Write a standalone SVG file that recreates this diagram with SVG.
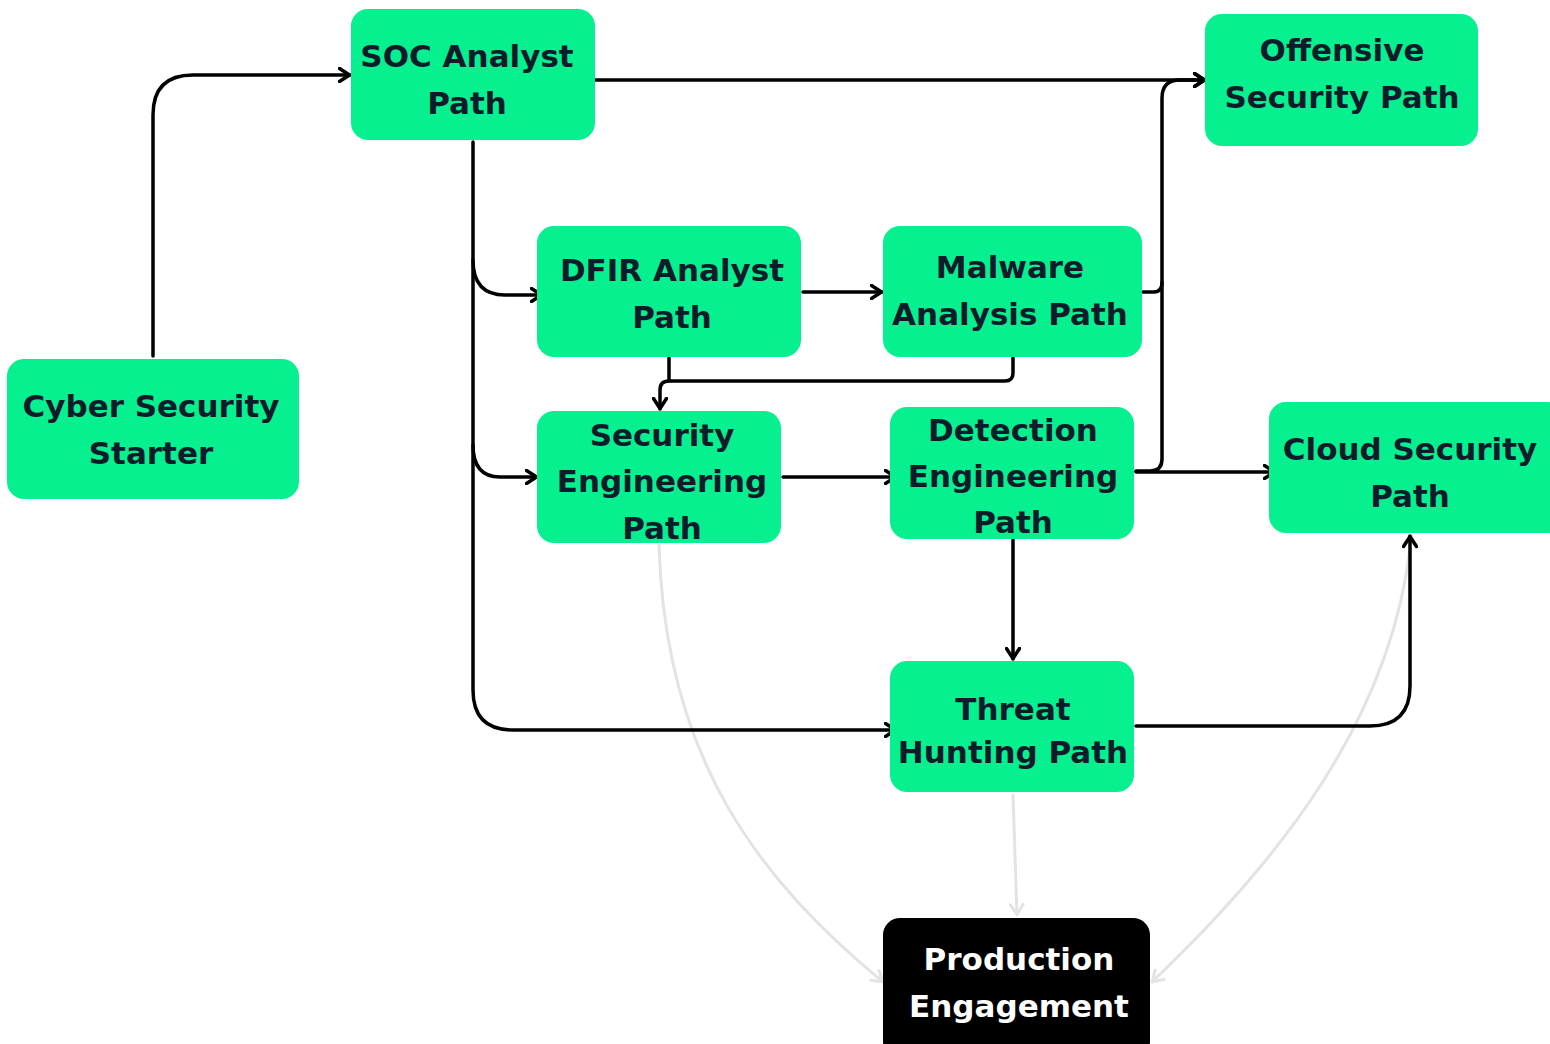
<svg xmlns="http://www.w3.org/2000/svg" width="1550" height="1044" viewBox="0 0 1550 1044">
<style>
.n{fill:#06f08f}
.t{font-family:"DejaVu Sans","Liberation Sans",sans-serif;font-weight:bold;font-size:31px;fill:#0e1b2b;text-anchor:middle}
.w{fill:#ffffff}
.c{fill:none;stroke:#000;stroke-width:3.5;stroke-linecap:round;stroke-linejoin:round}
.g{fill:none;stroke:#e3e3e3;stroke-width:3;stroke-linecap:round}
</style>
<defs>
<marker id="a" markerUnits="userSpaceOnUse" viewBox="0 0 14 16" refX="12.5" refY="8" markerWidth="14" markerHeight="16" orient="auto"><path d="M2,1.5 L12,8 L2,14.5" fill="none" stroke="#000" stroke-width="3.5" stroke-linecap="round" stroke-linejoin="round"/></marker>
<marker id="ag" markerUnits="userSpaceOnUse" viewBox="0 0 14 16" refX="12.5" refY="8" markerWidth="14" markerHeight="16" orient="auto"><path d="M2,1.5 L12,8 L2,14.5" fill="none" stroke="#e3e3e3" stroke-width="3" stroke-linecap="round" stroke-linejoin="round"/></marker>
</defs>
<g id="connectors">
<path class="g" d="M659,545 C665,760 760,880 883,982" marker-end="url(#ag)"/>
<path class="g" d="M1013,795 L1017,915" marker-end="url(#ag)"/>
<path class="g" d="M1410,548 C1390,720 1280,860 1152,982" marker-end="url(#ag)"/>
<path class="c" d="M153,356 V115 Q153,75 193,75 H350" marker-end="url(#a)"/>
<path class="c" d="M595,80 H1205" marker-end="url(#a)"/>
<path class="c" d="M473,142 V690 Q473,730 513,730 H896" marker-end="url(#a)"/>
<path class="c" d="M473,260 Q473,295 505,295 H542" marker-end="url(#a)"/>
<path class="c" d="M473,445 Q473,477 500,477 H537" marker-end="url(#a)"/>
<path class="c" d="M803,292 H882" marker-end="url(#a)"/>
<path class="c" d="M669,358 V381"/>
<path class="c" d="M1013,358 V373 Q1013,381 1005,381 H669 Q660,381 660,390 V409" marker-end="url(#a)"/>
<path class="c" d="M783,477 H896" marker-end="url(#a)"/>
<path class="c" d="M1143,292 H1154 Q1162,292 1162,282 V98 Q1162,80 1180,80 H1205" marker-end="url(#a)"/>
<path class="c" d="M1136,471 H1150 Q1162,471 1162,459 V282"/>
<path class="c" d="M1136,472 H1275" marker-end="url(#a)"/>
<path class="c" d="M1013,540 V659" marker-end="url(#a)"/>
<path class="c" d="M1136,726 H1370 Q1410,726 1410,686 V536" marker-end="url(#a)"/>
</g>
<g id="starter"><rect class="n" x="7" y="359" width="292" height="140" rx="17"/><text class="t" x="151" y="417">Cyber Security</text><text class="t" x="151" y="464">Starter</text></g>
<g id="soc"><rect class="n" x="351" y="9" width="244" height="131" rx="17"/><text class="t" x="467" y="67">SOC Analyst</text><text class="t" x="467" y="114">Path</text></g>
<g id="offensive"><rect class="n" x="1205" y="14" width="273" height="132" rx="17"/><text class="t" x="1342" y="61">Offensive</text><text class="t" x="1342" y="108">Security Path</text></g>
<g id="dfir"><rect class="n" x="537" y="226" width="264" height="131" rx="17"/><text class="t" x="672" y="281">DFIR Analyst</text><text class="t" x="672" y="328">Path</text></g>
<g id="malware"><rect class="n" x="883" y="226" width="259" height="131" rx="17"/><text class="t" x="1010" y="278">Malware</text><text class="t" x="1010" y="325">Analysis Path</text></g>
<g id="seceng"><rect class="n" x="537" y="411" width="244" height="132" rx="17"/><text class="t" x="662" y="446">Security</text><text class="t" x="662" y="492">Engineering</text><text class="t" x="662" y="539">Path</text></g>
<g id="detection"><rect class="n" x="890" y="407" width="244" height="132" rx="17"/><text class="t" x="1013" y="441">Detection</text><text class="t" x="1013" y="487">Engineering</text><text class="t" x="1013" y="533">Path</text></g>
<g id="cloud"><rect class="n" x="1269" y="402" width="295" height="131" rx="17"/><text class="t" x="1410" y="460">Cloud Security</text><text class="t" x="1410" y="507">Path</text></g>
<g id="threat"><rect class="n" x="890" y="661" width="244" height="131" rx="17"/><text class="t" x="1013" y="720">Threat</text><text class="t" x="1013" y="763">Hunting Path</text></g>
<g id="production"><rect x="883" y="918" width="267" height="140" rx="17" fill="#000"/><text class="t w" x="1019" y="970">Production</text><text class="t w" x="1019" y="1017">Engagement</text></g>
</svg>
